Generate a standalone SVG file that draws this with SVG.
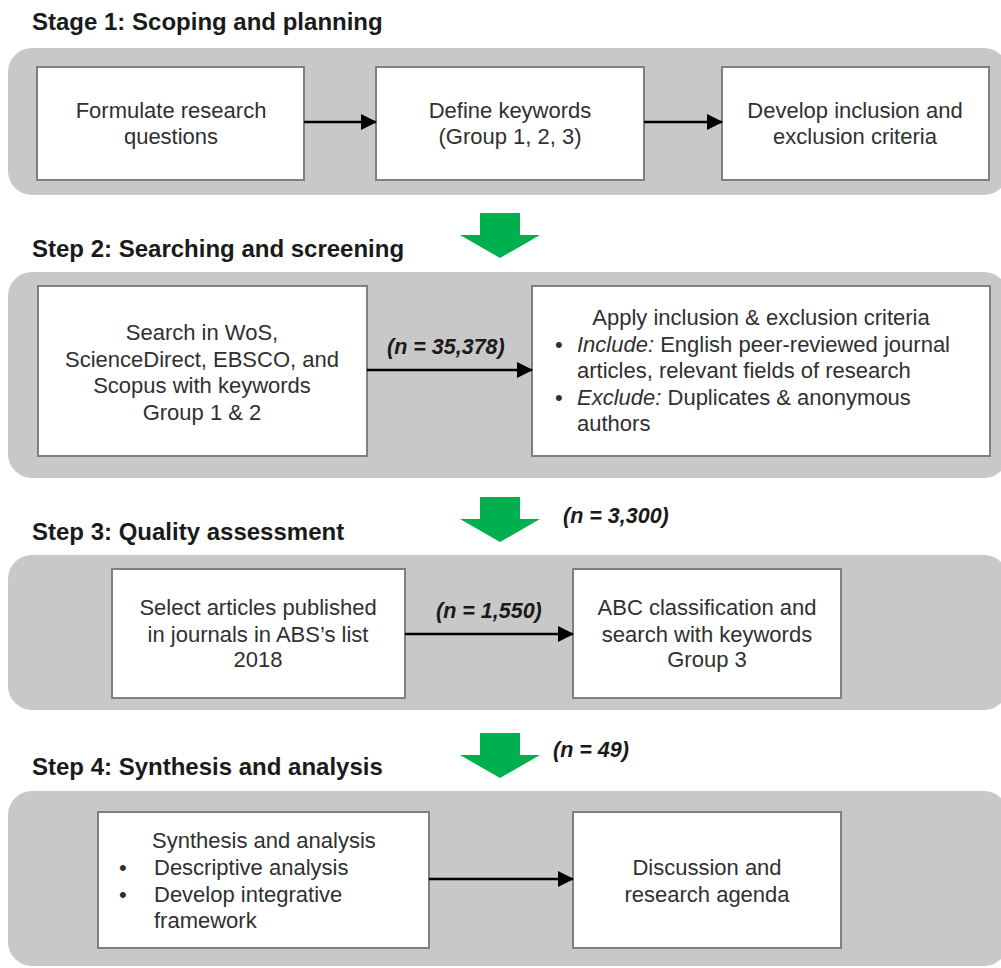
<svg xmlns="http://www.w3.org/2000/svg" width="1001" height="968" viewBox="0 0 1001 968">
<defs>
<style>
.panel{fill:#c8c8c8}
.box{fill:#ffffff;stroke:#808080;stroke-width:2}
.title{font-family:"Liberation Sans",Arial,sans-serif;font-size:24px;font-weight:bold;fill:#1a1a1a}
.t{font-family:"Liberation Sans",Arial,sans-serif;font-size:22px;fill:#303030}
.c{text-anchor:middle}
.n{font-family:"Liberation Sans",Arial,sans-serif;font-size:21.5px;font-weight:bold;font-style:italic;fill:#1a1a1a}
.conn{stroke:#000;stroke-width:2.5;fill:none;marker-end:url(#ah)}
.big{fill:#00b04f}
</style>
<marker id="ah" markerWidth="16" markerHeight="16" refX="15" refY="8" orient="auto" markerUnits="userSpaceOnUse">
<path d="M0,0 L16,8 L0,16 Z" fill="#000"/>
</marker>
</defs>
<rect width="1001" height="968" fill="#fff"/>

<g id="stage1">
<text class="title" x="32" y="30">Stage 1: Scoping and planning</text>
<rect class="panel" x="8" y="48" width="1000" height="147" rx="24"/>
</g>
<g id="step2">
<text class="title" x="32" y="257">Step 2: Searching and screening</text>
<rect class="panel" x="8" y="272" width="1000" height="206" rx="24"/>
</g>
<g id="step3">
<text class="title" x="32" y="540">Step 3: Quality assessment</text>
<rect class="panel" x="8" y="555" width="1000" height="155" rx="24"/>
</g>
<g id="step4">
<text class="title" x="32" y="775">Step 4: Synthesis and analysis</text>
<rect class="panel" x="8" y="791" width="1000" height="175" rx="24"/>
</g>

<g id="n-formulate">
<rect class="box" x="37" y="67" width="267" height="113"/>
<text class="t c" x="171" y="118">Formulate research</text>
<text class="t c" x="171" y="144">questions</text>
</g>
<g id="n-keywords">
<rect class="box" x="376" y="67" width="268" height="113"/>
<text class="t c" x="510" y="118">Define keywords</text>
<text class="t c" x="510" y="144">(Group 1, 2, 3)</text>
</g>
<g id="n-criteria">
<rect class="box" x="722" y="67" width="267" height="113"/>
<text class="t c" x="855" y="118">Develop inclusion and</text>
<text class="t c" x="855" y="144">exclusion criteria</text>
</g>

<g id="n-search">
<rect class="box" x="38" y="286" width="329" height="170"/>
<text class="t c" x="202" y="340">Search in WoS,</text>
<text class="t c" x="202" y="367">ScienceDirect, EBSCO, and</text>
<text class="t c" x="202" y="393">Scopus with keywords</text>
<text class="t c" x="202" y="420">Group 1 &amp; 2</text>
</g>
<g id="n-apply">
<rect class="box" x="532" y="286" width="458" height="170"/>
<text class="t c" x="761" y="325">Apply inclusion &amp; exclusion criteria</text>
<text class="t" x="555" y="352">•</text>
<text class="t" x="577" y="352"><tspan font-style="italic">Include:</tspan> English peer-reviewed journal</text>
<text class="t" x="577" y="378">articles, relevant fields of research</text>
<text class="t" x="555" y="405">•</text>
<text class="t" x="577" y="405"><tspan font-style="italic">Exclude:</tspan> Duplicates &amp; anonymous</text>
<text class="t" x="577" y="431">authors</text>
</g>

<g id="n-select">
<rect class="box" x="112" y="569" width="293" height="129"/>
<text class="t c" x="258" y="615">Select articles published</text>
<text class="t c" x="258" y="642">in journals in ABS’s list</text>
<text class="t c" x="258" y="667">2018</text>
</g>
<g id="n-abc">
<rect class="box" x="573" y="569" width="268" height="129"/>
<text class="t c" x="707" y="615">ABC classification and</text>
<text class="t c" x="707" y="642">search with keywords</text>
<text class="t c" x="707" y="667">Group 3</text>
</g>

<g id="n-synthesis">
<rect class="box" x="98" y="812" width="331" height="136"/>
<text class="t" x="152" y="848">Synthesis and analysis</text>
<text class="t" x="119" y="875">•</text>
<text class="t" x="154" y="875">Descriptive analysis</text>
<text class="t" x="119" y="902">•</text>
<text class="t" x="154" y="902">Develop integrative</text>
<text class="t" x="154" y="928">framework</text>
</g>
<g id="n-discussion">
<rect class="box" x="573" y="812" width="268" height="136"/>
<text class="t c" x="707" y="875">Discussion and</text>
<text class="t c" x="707" y="902">research agenda</text>
</g>

<g id="connectors">
<line class="conn" x1="304" y1="122" x2="376" y2="122"/>
<line class="conn" x1="644" y1="122" x2="722" y2="122"/>
<line class="conn" x1="367" y1="370" x2="532" y2="370"/>
<text class="n" x="387" y="354">(n = 35,378)</text>
<line class="conn" x1="405" y1="634" x2="573" y2="634"/>
<text class="n" x="436" y="618">(n = 1,550)</text>
<line class="conn" x1="429" y1="879" x2="573" y2="879"/>
<path class="big" d="M480,213 H520 V235 H540 L500,258 L460,235 H480 Z"/>
<path class="big" d="M480,497 H520 V519 H540 L500,542 L460,519 H480 Z"/>
<text class="n" x="563" y="523">(n = 3,300)</text>
<path class="big" d="M480,733 H520 V755 H540 L500,778 L460,755 H480 Z"/>
<text class="n" x="553" y="757">(n = 49)</text>
</g>
</svg>
